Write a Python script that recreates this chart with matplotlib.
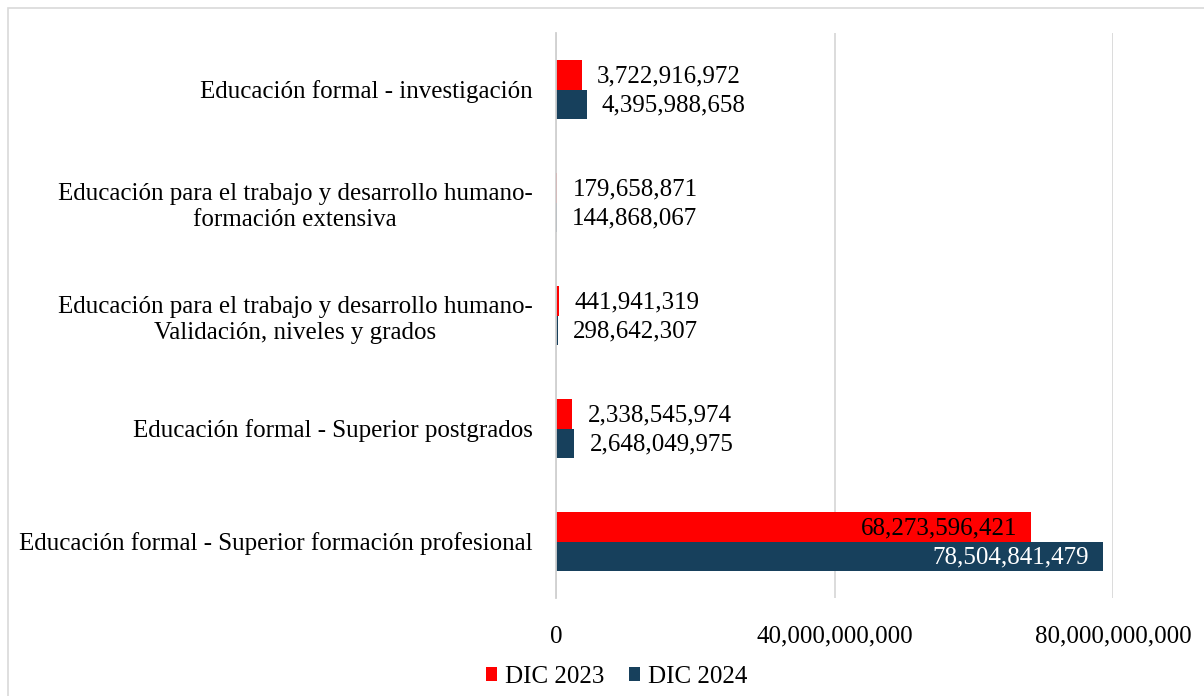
import numpy as np
import matplotlib.pyplot as plt
import matplotlib.patches as patches
from matplotlib.ticker import FuncFormatter

plt.rcParams['font.family'] = ['Liberation Serif', 'DejaVu Serif']

categorias = ["Educación formal - Superior formación profesional",
              "Educación formal - Superior postgrados",
              "Educación para el trabajo y desarrollo humano-\nValidación, niveles y grados",
              "Educación para el trabajo y desarrollo humano-\nformación extensiva",
              "Educación formal - investigación"]
dic2023 = [68273596421, 2338545974, 441941319, 179658871, 3722916972]
dic2024 = [78504841479, 2648049975, 298642307, 144868067, 4395988658]
series = ["DIC 2023", "DIC 2024"]
rojo = "#ff0000"
azul = "#17405c"

fig = plt.figure(figsize=(12.04, 6.96), dpi=100)
ax = fig.add_axes([556/1204, 1-598/696, (1113-556)/1204, 565/696])

y = np.arange(len(categorias))
h = 0.26
b1 = ax.barh(y + h/2, dic2023, height=h, color=rojo, label=series[0], zorder=2)
b2 = ax.barh(y - h/2, dic2024, height=h, color=azul, label=series[1], zorder=2)

fs = 18
def etiquetas(barras, vals, color_in):
  for r, v in zip(barras, vals):
    txt = "{:,}".format(v)
    yc = r.get_y() + r.get_height()/2
    if v > 20e9:
      ax.annotate(txt, (v, yc), xytext=(-10, -1), textcoords="offset points",
                  ha="right", va="center", fontsize=fs, color=color_in)
    else:
      ax.annotate(txt, (v, yc), xytext=(11, -1), textcoords="offset points",
                  ha="left", va="center", fontsize=fs, color="black")
etiquetas(b1, dic2023, "black")
etiquetas(b2, dic2024, "white")

ax.set_xlim(0, 80e9)
ax.set_ylim(-0.5, len(categorias) - 0.5)
ax.set_xticks([0, 40e9, 80e9])
ax.xaxis.set_major_formatter(FuncFormatter(lambda v, p: "{:,}".format(int(v))))
ax.set_yticks(y)
ax.set_yticklabels(categorias, fontsize=fs, multialignment="center", linespacing=1.25)
ax.tick_params(axis="y", length=0, pad=17)
ax.tick_params(axis="x", length=0, pad=20, labelsize=fs)
ax.grid(axis="x", color="#d9d9d9", lw=1.3, zorder=0)
for s in ["top", "right", "bottom"]:
  ax.spines[s].set_visible(False)
ax.spines["left"].set_color("#d0d0d0")
ax.spines["left"].set_linewidth(1.3)
ax.spines["left"].set_zorder(3)

fig.legend(handles=[b1, b2], loc="center", bbox_to_anchor=(0.512, 1-677/696), ncol=2,
           frameon=False, fontsize=fs, handlelength=0.45, handleheight=0.45,
           handletextpad=0.3, columnspacing=1.0)

fig.patches.append(patches.Rectangle((8/1204, -0.01), 1.0, 1-8/696+0.01,
                                     transform=fig.transFigure, fill=False,
                                     edgecolor="#d9d9d9", lw=1.2))

plt.savefig("out.png", dpi=100)
